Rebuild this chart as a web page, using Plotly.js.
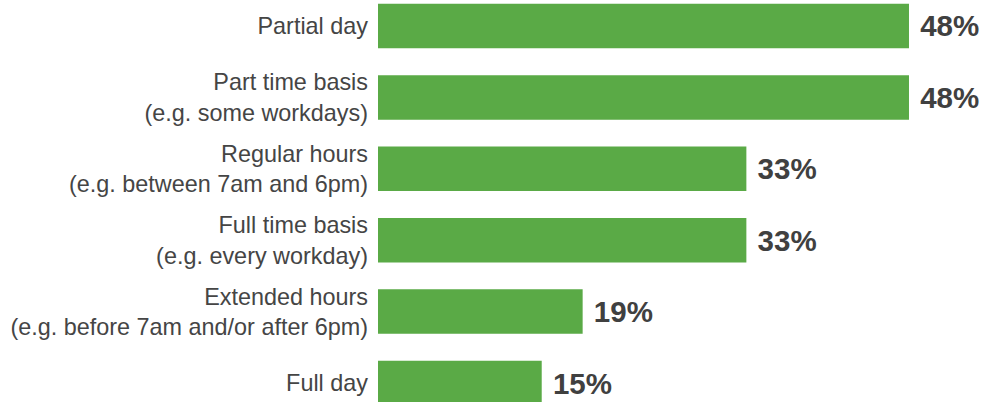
<!DOCTYPE html>
<html>
<head>
<meta charset="utf-8">
<script src="https://cdn.plot.ly/plotly-3.0.1.min.js"></script>
<style>html,body{margin:0;padding:0;background:#fff;}#chart{width:982px;height:402px;}</style>
</head>
<body>
<div id="chart"></div>
<script>
const categories = [
  "Partial day",
  "Part time basis<br>(e.g. some workdays)",
  "Regular hours<br>(e.g. between 7am and 6pm)",
  "Full time basis<br>(e.g. every workday)",
  "Extended hours<br>(e.g. before 7am and/or after 6pm)",
  "Full day"
];
// bar lengths (percent)
const values = [48.0, 48.0, 33.3, 33.3, 18.5, 14.8];
// printed value labels
const valueLabels = ["48%", "48%", "33%", "33%", "19%", "15%"];

const trace = {
  type: 'bar',
  orientation: 'h',
  y: categories,
  x: values,
  marker: {color: '#5aaa46'},
  text: valueLabels.map(s => '\u00a0' + s),
  textposition: 'outside',
  constraintext: 'none',
  cliponaxis: false,
  textfont: {family: 'Liberation Sans, Arial, sans-serif', size: 29.5, color: '#404040', weight: 'bold'},
  hoverinfo: 'none'
};

const layout = {
  width: 982, height: 402,
  margin: {l: 378, r: 0, t: 0, b: 0, pad: 0},
  paper_bgcolor: '#ffffff', plot_bgcolor: '#ffffff',
  showlegend: false,
  bargap: 0.377,
  xaxis: {range: [0, 54.6], visible: false, fixedrange: true},
  yaxis: {
    type: 'category',
    range: [5.266, -0.364],
    showgrid: false, zeroline: false, showline: false,
    ticks: '', ticklabelstandoff: 9,
    tickfont: {family: 'Liberation Sans, Arial, sans-serif', size: 23.4, color: '#454545'}
  },
  font: {family: 'Liberation Sans, Arial, sans-serif'}
};

Plotly.newPlot('chart', [trace], layout, {staticPlot: true, displayModeBar: false});
</script>
</body>
</html>
